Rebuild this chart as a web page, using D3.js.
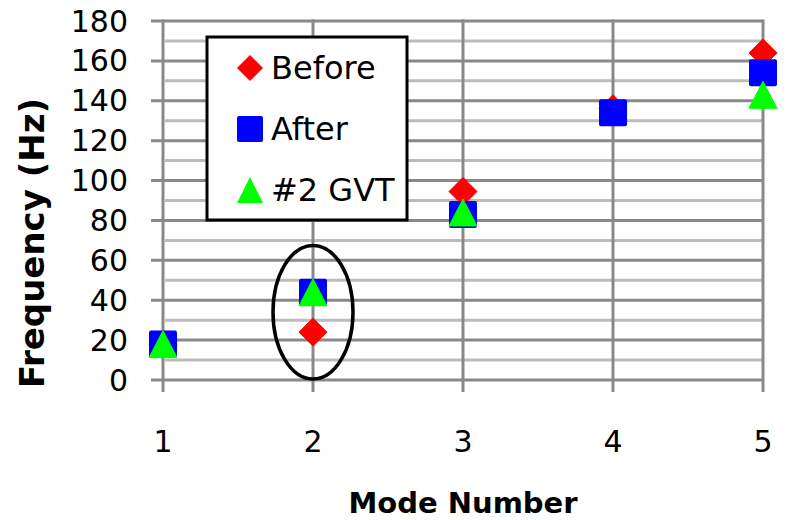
<!DOCTYPE html>
<html><head><meta charset="utf-8">
<script src="https://cdn.jsdelivr.net/npm/d3@7"></script>
<style>body{margin:0;background:#fff}svg{display:block}</style>
</head><body>
<svg id="c" width="789" height="520"></svg>
<script>
const modes = [1, 2, 3, 4, 5];
const beforeVals = [18, 24, 94.5, 136, 164];
const afterVals = [18, 44, 83, 134, 154];
const gvtModes = [1, 2, 3, 5];
const gvtVals = [18, 44, 84, 143];
const yTicks = [0, 20, 40, 60, 80, 100, 120, 140, 160, 180];
const yMinor = [10, 30, 50, 70, 90, 110, 130, 150, 170];
const seriesNames = ["Before", "After", "#2 GVT"];

const svg = d3.select("#c");
const x = d3.scaleLinear().domain([1, 5]).range([163, 763]);
const y = d3.scaleLinear().domain([0, 180]).range([380, 21]);
const FONT = "'DejaVu Sans', sans-serif";

// minor grid
svg.append("g").selectAll("line").data(yMinor).join("line")
  .attr("x1", x(1) + 2).attr("x2", x(5))
  .attr("y1", d => y(d)).attr("y2", d => y(d))
  .attr("stroke", "#bcbcbc").attr("stroke-width", 3);

// major grid
svg.append("g").selectAll("line").data(yTicks).join("line")
  .attr("x1", x(1) - 12).attr("x2", x(5))
  .attr("y1", d => y(d)).attr("y2", d => y(d))
  .attr("stroke", "#898989").attr("stroke-width", 3);

// vertical grid
svg.append("g").selectAll("line").data(modes).join("line")
  .attr("x1", d => x(d)).attr("x2", d => x(d))
  .attr("y1", y(180) - 1.5).attr("y2", y(0) + 12)
  .attr("stroke", "#898989").attr("stroke-width", 3);

// y tick labels
svg.append("g").selectAll("text").data(yTicks).join("text")
  .attr("x", 128).attr("y", d => y(d))
  .attr("text-anchor", "end").attr("dominant-baseline", "central")
  .attr("font-family", FONT).attr("font-size", 30).attr("fill", "#000")
  .text(d => d);

// x tick labels
svg.append("g").selectAll("text").data(modes).join("text")
  .attr("x", d => x(d)).attr("y", 452)
  .attr("text-anchor", "middle")
  .attr("font-family", FONT).attr("font-size", 30).attr("fill", "#000")
  .text(d => d);

// axis titles
svg.append("text")
  .attr("transform", "translate(44," + 243 + ") rotate(-90)")
  .attr("text-anchor", "middle")
  .attr("font-family", FONT).attr("font-weight", "bold").attr("font-size", 34)
  .text("Frequency (Hz)");
svg.append("text")
  .attr("x", 463).attr("y", 513)
  .attr("text-anchor", "middle")
  .attr("font-family", FONT).attr("font-weight", "bold").attr("font-size", 29)
  .text("Mode Number");

// marker shapes
const diamond = (cx, cy, r) => `M${cx},${cy - r}L${cx + r},${cy}L${cx},${cy + r}L${cx - r},${cy}Z`;
const triangle = (cx, cy, w, h) => `M${cx},${cy - h / 2}L${cx + w / 2},${cy + h / 2}L${cx - w / 2},${cy + h / 2}Z`;

// ellipse annotation around mode 2
svg.append("ellipse")
  .attr("cx", x(2)).attr("cy", y(34)).attr("rx", 40).attr("ry", y(0) - y(33.5))
  .attr("fill", "none").attr("stroke", "#000").attr("stroke-width", 3.5);

// Before
svg.append("g").selectAll("path").data(modes).join("path")
  .attr("d", (d, i) => diamond(x(d), y(beforeVals[i]), 14))
  .attr("fill", "#ff0000").attr("stroke", "#ff0000").attr("stroke-width", 1).attr("stroke-linejoin", "round");

// After
svg.append("g").selectAll("rect").data(modes).join("rect")
  .attr("x", d => x(d) - 14).attr("y", (d, i) => y(afterVals[i]) - 13.5)
  .attr("width", 28).attr("height", 27).attr("rx", 2)
  .attr("fill", "#0000ff");

// GVT
svg.append("g").selectAll("path").data(gvtModes).join("path")
  .attr("d", (d, i) => triangle(x(d), y(gvtVals[i]), 28, 27))
  .attr("fill", "#00ff00").attr("stroke", "#00ff00").attr("stroke-width", 1).attr("stroke-linejoin", "round");

// legend
const lg = svg.append("g");
lg.append("rect").attr("x", 207).attr("y", 37).attr("width", 200).attr("height", 183)
  .attr("fill", "#fff").attr("stroke", "#000").attr("stroke-width", 3);
const ly = [68, 129, 190];
lg.append("path").attr("d", diamond(250, ly[0], 13)).attr("fill", "#ff0000");
lg.append("rect").attr("x", 237).attr("y", ly[1] - 13).attr("width", 26).attr("height", 26).attr("rx", 2).attr("fill", "#0000ff");
lg.append("path").attr("d", triangle(250, ly[2], 26, 26)).attr("fill", "#00ff00");
lg.selectAll("text.l").data(seriesNames).join("text").attr("class", "l")
  .attr("x", 271).attr("y", (d, i) => ly[i])
  .attr("dominant-baseline", "central")
  .attr("font-family", FONT).attr("font-size", 32).attr("fill", "#000")
  .text(d => d);
</script>
</body></html>
